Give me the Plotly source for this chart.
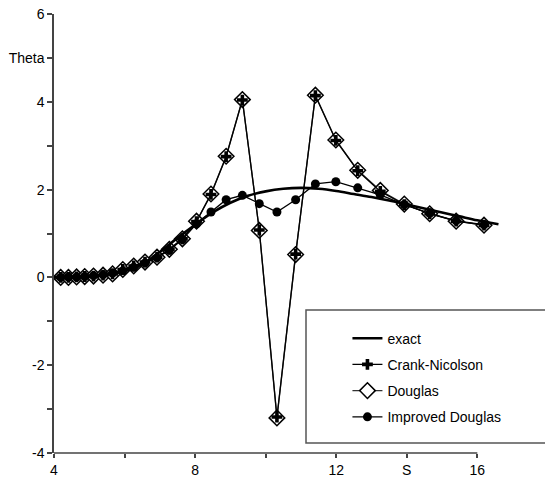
import plotly.graph_objects as go

# Grid of S values
s_grid = [3.99, 4.19, 4.41, 4.64, 4.87, 5.12, 5.39, 5.66, 5.95, 6.26, 6.58, 6.92,
          7.27, 7.64, 8.04, 8.45, 8.88, 9.34, 9.82, 10.32, 10.85, 11.41, 11.99,
          12.61, 13.25, 13.93, 14.65, 15.40, 16.19]

douglas = [0.0, 0.0, 0.0, 0.01, 0.02, 0.03, 0.05, 0.08, 0.18, 0.26, 0.35, 0.46,
           0.64, 0.88, 1.28, 1.9, 2.76, 4.05, 1.07, -3.2, 0.52, 4.15, 3.13,
           2.44, 1.98, 1.67, 1.45, 1.28, 1.19]

crank_nicolson = [0.0, 0.0, 0.0, 0.01, 0.02, 0.03, 0.05, 0.08, 0.18, 0.26, 0.35, 0.46,
                  0.64, 0.88, 1.27, 1.89, 2.75, 4.04, 1.08, -3.18, 0.53, 4.14, 3.12,
                  2.43, 1.96, 1.66, 1.45, 1.28, 1.19]

improved = [0.0, 0.0, 0.01, 0.01, 0.02, 0.04, 0.06, 0.1, 0.15, 0.23, 0.33, 0.45,
            0.62, 0.86, 1.22, 1.49, 1.77, 1.87, 1.68, 1.49, 1.77, 2.13, 2.18,
            2.04, 1.88, 1.66, 1.46, 1.29, 1.2]

s_exact = [4.0, 4.5, 5.0, 5.5, 6.0, 6.5, 7.0, 7.5, 8.0, 8.5, 9.0, 9.5, 10.0,
           10.5, 11.0, 11.5, 12.0, 12.5, 13.0, 13.5, 14.0, 14.5, 15.0, 15.5,
           16.0, 16.6]
theta_exact = [0.0, 0.005, 0.02, 0.06, 0.14, 0.3, 0.58, 0.9, 1.2, 1.48, 1.7, 1.86,
               1.96, 2.02, 2.04, 2.02, 1.97, 1.9, 1.83, 1.75, 1.66, 1.57, 1.48,
               1.39, 1.3, 1.21]

x_tickvals = [4, 6, 8, 10, 12, 14, 16]
x_ticktext = ["4", "", "8", "", "12", "S", "16"]
y_tickvals = [-4, -3, -2, -1, 0, 1, 2, 3, 4, 5, 6]
y_ticktext = ["-4", "", "-2", "", "0", "", "2", "", "4", "Theta", "6"]

FONT = "Liberation Sans, Arial, sans-serif"

fig = go.Figure()

fig.add_trace(go.Scatter(
    x=s_grid, y=douglas, name="Douglas", mode="lines+markers",
    line=dict(color="#333333", width=1.3),
    marker=dict(symbol="diamond", size=12, color="white",
                line=dict(color="black", width=1.5)),
    legendrank=3, legendgroup="c", cliponaxis=False))

fig.add_trace(go.Scatter(
    x=s_grid, y=crank_nicolson, name="Crank-Nicolson", mode="lines+markers",
    line=dict(color="black", width=1.3),
    marker=dict(symbol="cross", size=9, color="black"),
    legendrank=2, legendgroup="b", cliponaxis=False))

fig.add_trace(go.Scatter(
    x=s_grid, y=improved, name="Improved Douglas", mode="lines+markers",
    line=dict(color="black", width=1.3),
    marker=dict(symbol="circle", size=9, color="black"),
    legendrank=4, legendgroup="d", cliponaxis=False))

fig.add_trace(go.Scatter(
    x=s_exact, y=theta_exact, name="exact", mode="lines",
    line=dict(color="black", width=2.6, shape="spline"),
    legendrank=1, legendgroup="a"))

# x axis line only from 4 to 16
fig.add_shape(type="line", xref="x", yref="paper", x0=4, x1=16, y0=0, y1=0,
              line=dict(color="#444444", width=1.5), layer="above")
# legend frame
fig.add_shape(type="rect", xref="paper", yref="paper",
              x0=0.5625, x1=1.12, y0=0.0228, y1=0.3257,
              line=dict(color="#555555", width=1.5), fillcolor="white", layer="below")

fig.update_layout(
    width=545, height=481,
    margin=dict(l=54, r=43, t=14, b=28, autoexpand=False),
    paper_bgcolor="white", plot_bgcolor="white",
    font=dict(family=FONT, size=14, color="black"),
    showlegend=True,
    legend=dict(x=0.655, y=0.297, xanchor="left", yanchor="top",
                bgcolor="rgba(0,0,0,0)", borderwidth=0,
                font=dict(family=FONT, size=14, color="black"),
                traceorder="grouped", tracegroupgap=5),
)
fig.update_xaxes(range=[4, 16.7], tickvals=x_tickvals, ticktext=x_ticktext,
                 showline=False, showgrid=False, zeroline=False, automargin=False,
                 ticks="outside", ticklen=4, tickwidth=1.5, tickcolor="#444444",
                 tickfont=dict(family=FONT, size=14, color="black"))
fig.update_yaxes(range=[-4, 6], tickvals=y_tickvals, ticktext=y_ticktext,
                 showline=True, linecolor="#444444", linewidth=1.5,
                 showgrid=False, zeroline=False, automargin=False,
                 ticks="outside", ticklen=5, tickwidth=1.5, tickcolor="#444444",
                 tickfont=dict(family=FONT, size=14, color="black"))

fig.write_html("out.html")
